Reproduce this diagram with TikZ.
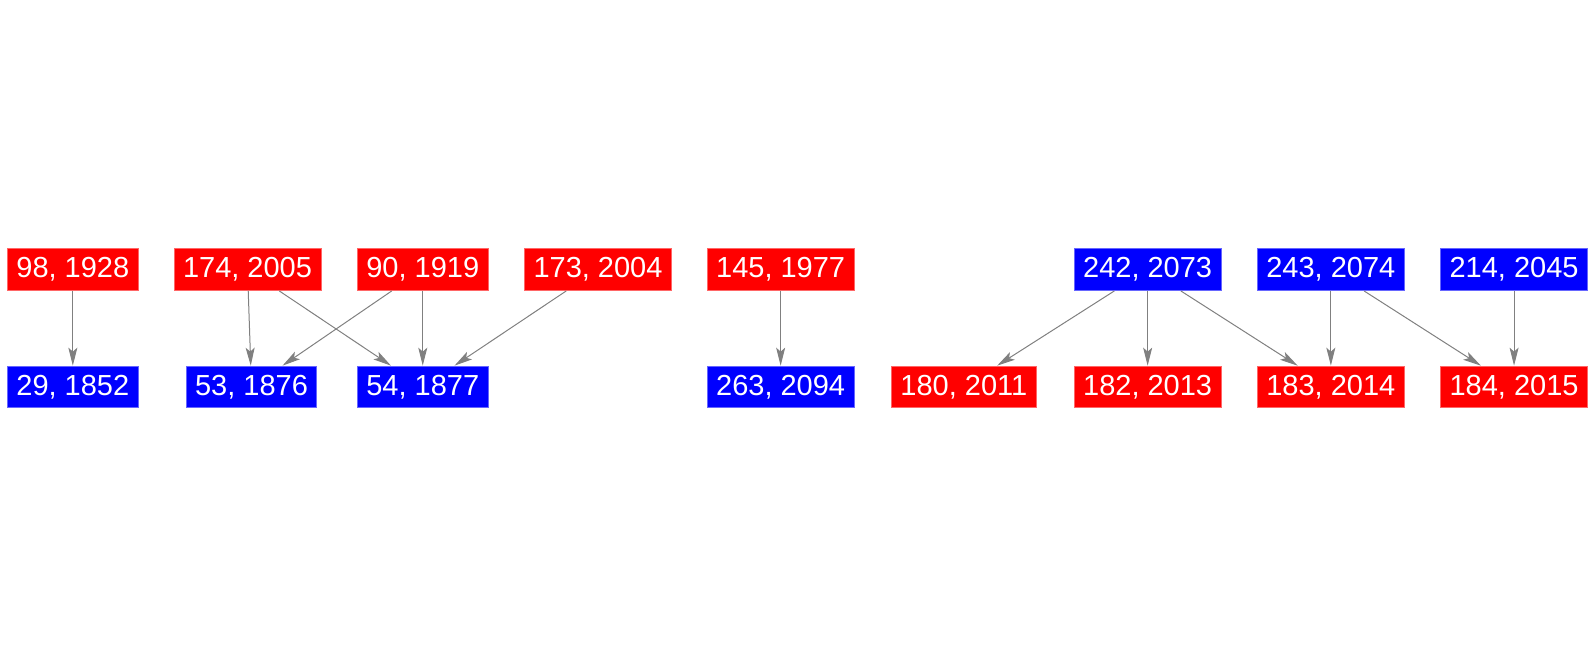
\documentclass[tikz,border=0pt]{standalone}
\usepackage{fontspec}
\setmainfont{Liberation Sans}
\usepackage{tikz}
\usetikzlibrary{arrows.meta}
\definecolor{lowcolor}{HTML}{FF0000}
\definecolor{highcolor}{HTML}{0000FF}

\begin{document}
\begin{tikzpicture}[
    box/.style={rectangle, font=\fontsize{14.5pt}{16pt}\selectfont, text=white, inner xsep=4.5pt, inner ysep=0pt, minimum height=20.75pt, line width=0.5pt},
    low/.style={box, fill=lowcolor, draw=lowcolor!60!white},
    high/.style={box, fill=highcolor, draw=highcolor!60!white},
    link/.style={draw=gray, line width=0.5pt, -{Stealth[length=9pt, width=4.5pt, inset=2pt]}}
]
\useasboundingbox (0,4.74) rectangle (28.05,-6.79);

% Top row
\node[low] (n98) at (1.28,0) {98, 1928};
\node[low] (n174) at (4.35,0) {174, 2005};
\node[low] (n90) at (7.43,0) {90, 1919};
\node[low] (n173) at (10.51,0) {173, 2004};
\node[low] (n145) at (13.72,0) {145, 1977};
\node[high] (n242) at (20.17,0) {242, 2073};
\node[high] (n243) at (23.39,0) {243, 2074};
\node[high] (n214) at (26.61,0) {214, 2045};

% Bottom row
\node[high] (n29) at (1.28,-2.06) {29, 1852};
\node[high] (n53) at (4.42,-2.06) {53, 1876};
\node[high] (n54) at (7.43,-2.06) {54, 1877};
\node[high] (n263) at (13.72,-2.06) {263, 2094};
\node[low] (n180) at (16.94,-2.06) {180, 2011};
\node[low] (n182) at (20.17,-2.06) {182, 2013};
\node[low] (n183) at (23.39,-2.06) {183, 2014};
\node[low] (n184) at (26.61,-2.06) {184, 2015};

% Edges
\draw[link] (n98) -- (n29);
\draw[link] (n174) -- (n53);
\draw[link] (n174) -- (n54);
\draw[link] (n90) -- (n53);
\draw[link] (n90) -- (n54);
\draw[link] (n173) -- (n54);
\draw[link] (n145) -- (n263);
\draw[link] (n242) -- (n180);
\draw[link] (n242) -- (n182);
\draw[link] (n242) -- (n183);
\draw[link] (n243) -- (n183);
\draw[link] (n243) -- (n184);
\draw[link] (n214) -- (n184);
\end{tikzpicture}
\end{document}
